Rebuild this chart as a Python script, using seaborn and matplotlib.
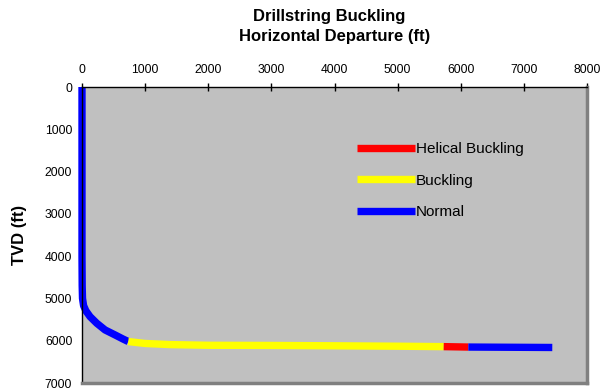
import numpy as np
import pandas as pd
import matplotlib
matplotlib.use("Agg")
import matplotlib.pyplot as plt
from matplotlib.lines import Line2D
import seaborn as sns

# -----------------------------
# Data
# -----------------------------
normal_top_dep = [0, 0, 0, 0, 3, 8, 25, 60, 127, 233, 365, 523, 650, 733]
normal_top_tvd = [0, 1000, 3000, 4000, 4700, 5000, 5170, 5290, 5430, 5586, 5745, 5863, 5960, 6020]

buckling_dep = [733, 1000, 1400, 2000, 3000, 4000, 5000, 5730]
buckling_tvd = [6020, 6065, 6092, 6108, 6112, 6120, 6130, 6140]

helical_dep = [5730, 6120]
helical_tvd = [6140, 6150]

normal_end_dep = [6120, 7450]
normal_end_tvd = [6150, 6160]

x_ticks = [0, 1000, 2000, 3000, 4000, 5000, 6000, 7000, 8000]
y_ticks = [0, 1000, 2000, 3000, 4000, 5000, 6000, 7000]

# -----------------------------
# Style
# -----------------------------
sns.set_style("white", {'text.color': 'black', 'axes.labelcolor': 'black',
                        'xtick.color': 'black', 'ytick.color': 'black'})
plt.rcParams['font.family'] = ['Liberation Sans', 'DejaVu Sans']

fig = plt.figure(figsize=(6, 3.89), dpi=100)
ax = fig.add_axes([82/600, 1-383/389, (587-82)/600, (383-87)/389])
ax.set_facecolor('#C0C0C0')

lw = 5.3
segments = [
    (normal_top_dep, normal_top_tvd, '#0000FF'),
    (buckling_dep, buckling_tvd, '#FFFF00'),
    (helical_dep, helical_tvd, '#FF0000'),
    (normal_end_dep, normal_end_tvd, '#0000FF'),
]
for dep, tvd, col in segments:
    sns.lineplot(x=dep, y=tvd, sort=False, estimator=None, color=col,
                 linewidth=lw, ax=ax, clip_on=False, solid_capstyle='butt',
                 solid_joinstyle='round')

ax.set_xlim(0, 8000)
ax.set_ylim(7000, 0)
ax.set_xticks(x_ticks)
ax.set_yticks(y_ticks)
ax.xaxis.tick_top()
ax.set_xlabel('')
ax.tick_params(axis='both', direction='inout', length=6, width=1,
               labelsize=8.7, colors='black')
ax.tick_params(axis='x', pad=5)
ax.tick_params(axis='y', pad=4)

for side in ['left', 'top']:
    ax.spines[side].set_color('black')
    ax.spines[side].set_linewidth(1)
for side in ['right', 'bottom']:
    ax.spines[side].set_color('#808080')
    ax.spines[side].set_linewidth(2.5)

ax.set_ylabel('TVD (ft)', fontsize=12, fontweight='bold', labelpad=13,
              color='black')
fig.text(329/600, 1-17/389, 'Drillstring Buckling', fontsize=12,
         fontweight='bold', ha='center', va='center', color='black')
fig.text(335/600, 1-36/389, 'Horizontal Departure (ft)', fontsize=12,
         fontweight='bold', ha='center', va='center', color='black')

handles = [
    Line2D([], [], color='#FF0000', linewidth=lw, solid_capstyle='butt'),
    Line2D([], [], color='#FFFF00', linewidth=lw, solid_capstyle='butt'),
    Line2D([], [], color='#0000FF', linewidth=lw, solid_capstyle='butt'),
]
labels = ['Helical Buckling', 'Buckling', 'Normal']
ax.legend(handles, labels, loc='upper left', bbox_to_anchor=(0.518, 0.86),
          frameon=False, fontsize=11, handlelength=3.8, handletextpad=0.05,
          labelspacing=1.15, labelcolor='black')

fig.savefig('out.png', dpi=100)
